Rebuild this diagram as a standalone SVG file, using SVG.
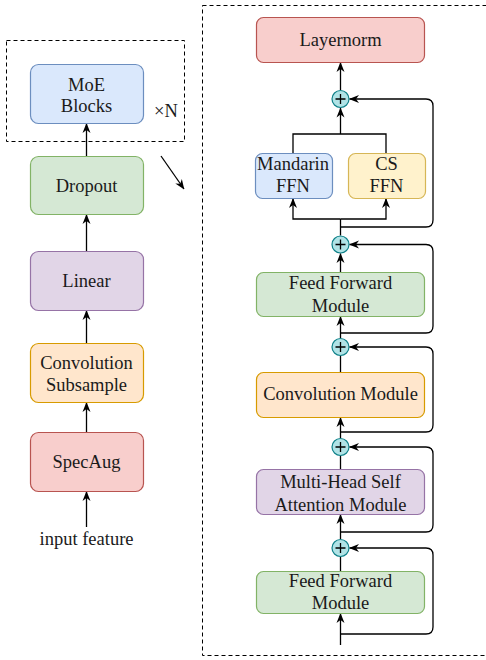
<svg xmlns="http://www.w3.org/2000/svg" width="486" height="660" viewBox="0 0 486 660">
<defs>
<style>
text{font-family:"Liberation Serif","Times New Roman",serif;font-size:18.5px;fill:#1a1a1a;text-anchor:middle}
.box{stroke-width:1.2}
.blue{fill:#dae8fc;stroke:#6c8ebf}
.green{fill:#d5e8d4;stroke:#82b366}
.purple{fill:#e1d5e7;stroke:#9673a6}
.orange{fill:#ffe6cc;stroke:#d79b00}
.red{fill:#f8cecc;stroke:#b85450}
.yellow{fill:#fff2cc;stroke:#d6b656}
.sum circle{fill:#b0e3e6;stroke:#0e8088;stroke-width:1.2}
.sum path{stroke:#000;stroke-width:1.3;fill:none}
.c{fill:none;stroke:#000;stroke-width:1.3}
.a{marker-end:url(#arr)}
.dash{fill:none;stroke:#000;stroke-width:1;stroke-dasharray:4 3}
</style>
<marker id="arr" viewBox="0 0 10 10" refX="9.5" refY="5" markerWidth="10" markerHeight="10" markerUnits="userSpaceOnUse" orient="auto">
<path d="M0,1 L10,5 L0,9 L3,5 z" fill="#000"/>
</marker>
</defs>
<rect width="486" height="660" fill="#fff"/>

<g id="frames">
<rect class="dash" x="6.5" y="40.5" width="178" height="101"/>
<rect class="dash" x="202.5" y="5.5" width="320" height="650"/>
<text x="166" y="117">×N</text>
</g>

<g id="connectors">
<path class="c a" d="M86.5,527 V491.5"/>
<path class="c a" d="M86.5,432 V402.5"/>
<path class="c a" d="M86.5,343 V310.5"/>
<path class="c a" d="M86.5,251 V214.5"/>
<path class="c a" d="M86.5,156 V123.5"/>
<path class="c a" d="M161,156 L184,189"/>

<path class="c a" d="M340.5,90 V62.5"/>
<path class="c" d="M293,153 V134 H386 V153"/>
<path class="c a" d="M340.5,134 V108"/>
<path class="c" d="M340.5,235.5 V219"/>
<path class="c a" d="M340.5,219 H293 V198.5"/>
<path class="c a" d="M340.5,219 H386 V198.5"/>
<path class="c a" d="M340.5,227 H426 Q433,227 433,220 V106 Q433,99 426,99 H349.5"/>

<path class="c a" d="M340.5,272 V253.5"/>
<path class="c a" d="M340.5,338 V316.5"/>
<path class="c a" d="M340.5,333 H426 Q433,333 433,326 V251.5 Q433,244.5 426,244.5 H349.5"/>

<path class="c" d="M340.5,372 V356"/>
<path class="c a" d="M340.5,438 V417.5"/>
<path class="c a" d="M340.5,432 H426 Q433,432 433,425 V354 Q433,347 426,347 H349.5"/>

<path class="c" d="M340.5,469 V456"/>
<path class="c a" d="M340.5,539 V514.5"/>
<path class="c a" d="M340.5,532 H426 Q433,532 433,525 V454 Q433,447 426,447 H349.5"/>

<path class="c" d="M340.5,571 V557"/>
<path class="c a" d="M340.5,645 V613.5"/>
<path class="c a" d="M340.5,634 H426 Q433,634 433,627 V555 Q433,548 426,548 H349.5"/>
</g>

<g id="moe"><rect class="box blue" x="30.5" y="64.5" width="113" height="59" rx="8"/><text x="86.5" y="91">MoE</text><text x="86.5" y="112">Blocks</text></g>
<g id="dropout"><rect class="box green" x="30.5" y="156.5" width="113" height="58" rx="8"/><text x="86.5" y="191.5">Dropout</text></g>
<g id="linear"><rect class="box purple" x="30.5" y="251.5" width="113" height="59" rx="8"/><text x="86.5" y="287">Linear</text></g>
<g id="convsub"><rect class="box orange" x="30.5" y="343.5" width="113" height="59" rx="8"/><text x="86.5" y="369">Convolution</text><text x="86.5" y="391">Subsample</text></g>
<g id="specaug"><rect class="box red" x="30.5" y="432.5" width="113" height="59" rx="8"/><text x="86.5" y="468">SpecAug</text></g>
<g id="input"><text x="86.5" y="545">input feature</text></g>

<g id="layernorm"><rect class="box red" x="256.5" y="17.5" width="168" height="45" rx="7"/><text x="340.5" y="46">Layernorm</text></g>
<g id="mandarin"><rect class="box blue" x="255.5" y="153.5" width="77" height="45" rx="7"/><text x="293" y="170">Mandarin</text><text x="293" y="192">FFN</text></g>
<g id="cs"><rect class="box yellow" x="348.5" y="153.5" width="77" height="45" rx="7"/><text x="386.5" y="170">CS</text><text x="386.5" y="192">FFN</text></g>
<g id="ffn2"><rect class="box green" x="256.5" y="272.5" width="168" height="44" rx="7"/><text x="340.5" y="289">Feed Forward</text><text x="340.5" y="312">Module</text></g>
<g id="conv"><rect class="box orange" x="256.5" y="372.5" width="168" height="45" rx="7"/><text x="340.5" y="400">Convolution Module</text></g>
<g id="mhsa"><rect class="box purple" x="256.5" y="469.5" width="168" height="45" rx="7"/><text x="340.5" y="488">Multi-Head Self</text><text x="340.5" y="511">Attention Module</text></g>
<g id="ffn1"><rect class="box green" x="256.5" y="571.5" width="168" height="42" rx="7"/><text x="340.5" y="587">Feed Forward</text><text x="340.5" y="609">Module</text></g>

<g id="sum1" class="sum"><circle cx="340.5" cy="99" r="8.5"/><path d="M335.5,99 H345.5 M340.5,94 V104"/></g>
<g id="sum2" class="sum"><circle cx="340.5" cy="244.5" r="8.5"/><path d="M335.5,244.5 H345.5 M340.5,239.5 V249.5"/></g>
<g id="sum3" class="sum"><circle cx="340.5" cy="347" r="8.5"/><path d="M335.5,347 H345.5 M340.5,342 V352"/></g>
<g id="sum4" class="sum"><circle cx="340.5" cy="447" r="8.5"/><path d="M335.5,447 H345.5 M340.5,442 V452"/></g>
<g id="sum5" class="sum"><circle cx="340.5" cy="548" r="8.5"/><path d="M335.5,548 H345.5 M340.5,543 V553"/></g>
</svg>
